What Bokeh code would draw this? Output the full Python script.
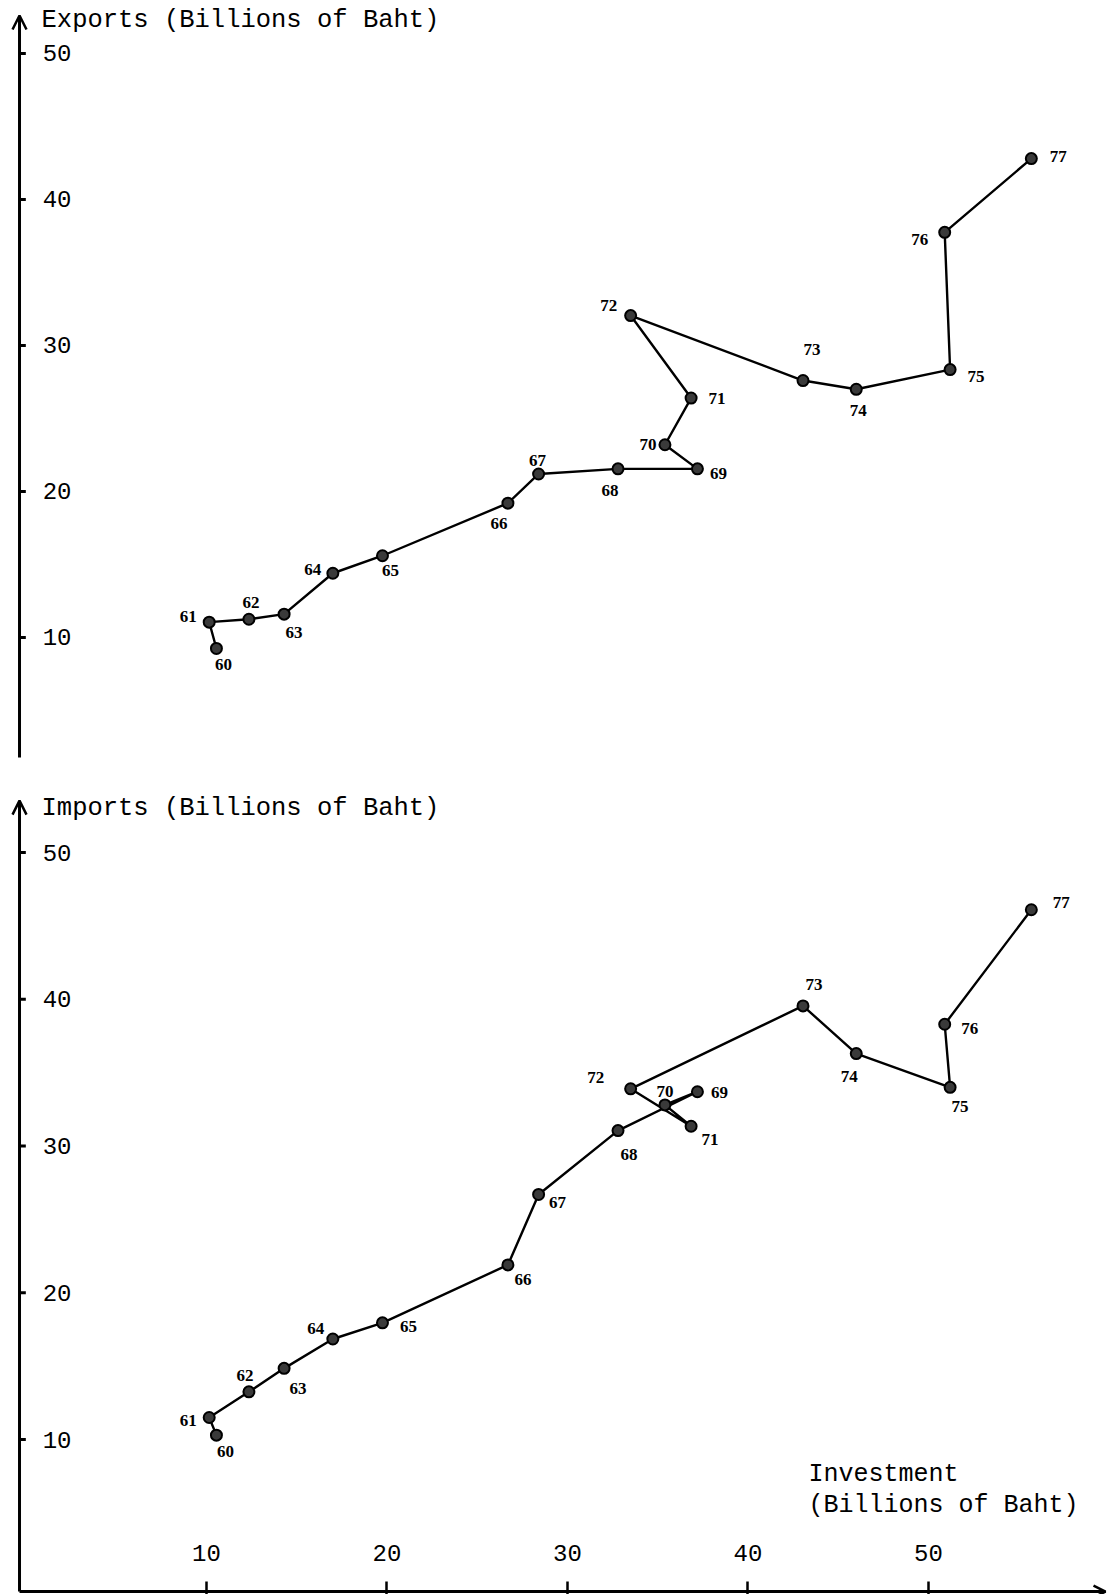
from bokeh.plotting import figure
from bokeh.layouts import column
from bokeh.models import Range1d, Arrow, OpenHead, Label, ColumnDataSource, FixedTicker
from bokeh.core.properties import value
from bokeh.embed import file_html
from bokeh.resources import INLINE

# ---- data (billions of baht) ----
years = ["60", "61", "62", "63", "64", "65", "66", "67", "68",
         "69", "70", "71", "72", "73", "74", "75", "76", "77"]
investment = [10.55, 10.15, 12.35, 14.3, 17.0, 19.75, 26.7, 28.4, 32.8,
              37.2, 35.4, 36.85, 33.5, 43.05, 46.0, 51.2, 50.9, 55.7]
exports = [9.25, 11.05, 11.25, 11.6, 14.4, 15.6, 19.2, 21.2, 21.55,
           21.55, 23.2, 26.4, 32.05, 27.6, 27.0, 28.35, 37.75, 42.8]
imports = [10.3, 11.5, 13.25, 14.85, 16.85, 17.95, 21.9, 26.7, 31.05,
           33.7, 32.8, 31.35, 33.9, 39.55, 36.3, 34.0, 38.3, 46.1]
y_ticks = [10, 20, 30, 40, 50]
x_ticks = [10, 20, 30, 40, 50]
exports_title = "Exports (Billions of Baht)"
imports_title = "Imports (Billions of Baht)"
x_title_1 = "Investment"
x_title_2 = "(Billions of Baht)"

# ---- label placement (screen px, y down) ----
exp_dx = [7, -21, 2, 10, -20, 8, -9, -1, -8, 21, -17, 26, -22, 9, 2, 26, -25, 27]
exp_dy = [16, -6, -17, 18, -4, 15, 20, -13, 22, 5, 0, 0, -10, -31, 21, 7, 7, -2]
imp_dx = [9, -21, -4, 14, -17, 26, 15, 19, 11, 22, 0, 19, -35, 11, -7, 10, 25, 30]
imp_dy = [16, 3, -16, 20, -11, 4, 15, 8, 24, 1, -13, 13, -11, -21, 23, 19, 4, -7]

MONO = "Liberation Mono"
SERIF = "Liberation Serif"

# ---- layout ranges ----
X_RANGE = (-0.97, 59.92)
AXIS_X = -0.36          # where the vertical axis line is drawn
X_TIP = 59.81           # end of horizontal axis arrow
Y1_RANGE = (0.89, 53.63)
Y1_LINE = (1.78, 52.6)
Y2_RANGE = (-0.56, 55.59)
AXIS_Y2 = -0.36
Y2_TIP = 53.54
TICK_LEN = 0.35


def make_panel(height, y_range, line_span, yvals, dx, dy, title, title_y):
    p = figure(width=1107, height=height,
               x_range=Range1d(*X_RANGE), y_range=Range1d(*y_range),
               output_backend="svg", toolbar_location=None,
               min_border_left=8, min_border_right=0,
               min_border_top=0, min_border_bottom=0)
    p.outline_line_color = None
    p.grid.visible = False
    p.background_fill_color = "white"

    ax = p.yaxis[0]
    ax.ticker = FixedTicker(ticks=y_ticks)
    ax.axis_line_color = None
    ax.major_tick_line_color = None
    ax.major_tick_in = 0
    ax.major_tick_out = 0
    ax.minor_tick_line_color = None
    ax.major_label_standoff = -63
    ax.major_label_text_font = MONO
    ax.major_label_text_font_size = "24px"
    ax.major_label_text_color = "black"

    # vertical axis line with arrow head, and its small tick marks
    p.add_layout(Arrow(end=OpenHead(size=14, line_width=2.5, line_color="black"),
                       x_start=AXIS_X, y_start=line_span[0], x_end=AXIS_X, y_end=line_span[1],
                       line_width=3, line_color="black"))
    p.segment(x0=[AXIS_X] * len(y_ticks), x1=[AXIS_X + TICK_LEN] * len(y_ticks),
              y0=y_ticks, y1=y_ticks, line_color="black", line_width=3)

    src = ColumnDataSource(dict(x=investment, y=yvals, t=years, dx=dx, dy=dy))
    p.line("x", "y", source=src, line_color="black", line_width=2.4)
    p.scatter("x", "y", source=src, size=11, marker="circle",
              fill_color="#3a3a3a", line_color="black", line_width=2)
    p.text("x", "y", text="t", x_offset="dx", y_offset="dy", source=src,
           text_font=value(SERIF), text_font_size="17px", text_font_style="bold",
           text_align="center", text_baseline="middle", text_color="black")

    p.add_layout(Label(x=0.86, y=title_y, text=title, text_font=MONO,
                       text_font_size="25.5px", text_baseline="middle", text_color="black"))
    return p


p1 = make_panel(770, Y1_RANGE, Y1_LINE, exports, exp_dx, exp_dy, exports_title, 52.25)
p1.xaxis.visible = False

p2 = make_panel(824, Y2_RANGE, (AXIS_Y2, Y2_TIP), imports, imp_dx, imp_dy, imports_title, 53.0)
xa = p2.xaxis[0]
xa.ticker = FixedTicker(ticks=x_ticks)
xa.axis_line_color = None
xa.major_tick_in = 13
xa.major_tick_out = 0
xa.major_tick_line_width = 2.5
xa.major_tick_line_color = "black"
xa.minor_tick_line_color = None
xa.major_label_standoff = -50
xa.major_label_text_font = MONO
xa.major_label_text_font_size = "24px"
xa.major_label_text_color = "black"

p2.add_layout(Arrow(end=OpenHead(size=12, line_width=2.5, line_color="black"),
                    x_start=AXIS_X, y_start=AXIS_Y2, x_end=X_TIP, y_end=AXIS_Y2,
                    line_width=3, line_color="black"))
p2.add_layout(Label(x=43.35, y=7.6, text=x_title_1, text_font=MONO,
                    text_font_size="25px", text_baseline="middle", text_color="black"))
p2.add_layout(Label(x=43.35, y=5.5, text=x_title_2, text_font=MONO,
                    text_font_size="25px", text_baseline="middle", text_color="black"))

layout = column(p1, p2, spacing=0)
open("out.html", "w").write(file_html(layout, INLINE))
